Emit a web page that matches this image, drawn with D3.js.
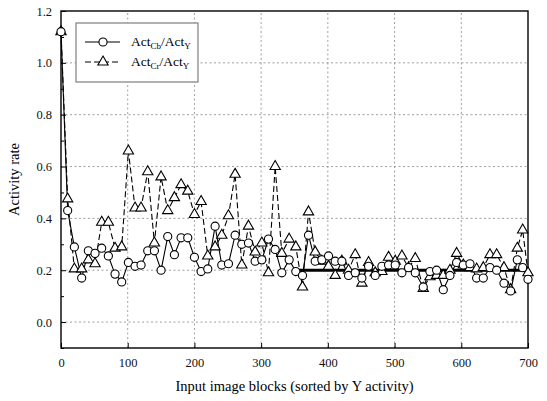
<!DOCTYPE html>
<html>
<head>
<meta charset="utf-8">
<script src="https://cdn.jsdelivr.net/npm/d3@7"></script>
<style>
  body { margin: 0; background: #fff; }
  svg { display: block; font-family: "Liberation Serif", "DejaVu Serif", serif; }
  .grid line { stroke: #888; stroke-width: 0.8; stroke-dasharray: 2,2.5; }
  .tick-lbl { font-size: 12.5px; fill: #111; }
</style>
</head>
<body>
<div id="chart"></div>
<script>
var blocks = [0, 10, 20, 31, 41, 51, 61, 71, 81, 91, 101, 111, 120, 130, 140, 150, 160, 170, 180, 190,
    200, 210, 220, 231, 241, 251, 261, 271, 281, 291, 301, 311, 321, 331, 342, 352, 362, 371, 381, 391,
    401, 411, 421, 431, 441, 451, 461, 471, 481, 491, 501, 511, 521, 531, 543, 553, 563, 573, 583, 593,
    603, 613, 623, 633, 643, 653, 664, 674, 684, 692, 700];

var actCb = [1.12, 0.43, 0.29, 0.17, 0.275, 0.265, 0.285, 0.255, 0.185, 0.155, 0.23, 0.215, 0.22, 0.275, 0.275, 0.2, 0.33, 0.26, 0.325, 0.325,
    0.25, 0.195, 0.205, 0.37, 0.22, 0.225, 0.335, 0.3, 0.305, 0.235, 0.24, 0.32, 0.28, 0.19, 0.24, 0.195, 0.18, 0.335, 0.235, 0.24,
    0.255, 0.235, 0.235, 0.18, 0.19, 0.17, 0.215, 0.18, 0.215, 0.22, 0.22, 0.19, 0.21, 0.19, 0.135, 0.195, 0.2, 0.125, 0.18, 0.23,
    0.22, 0.225, 0.17, 0.17, 0.21, 0.2, 0.15, 0.12, 0.24, 0.21, 0.165];

var actCr = [1.12, 0.475, 0.205, 0.205, 0.24, 0.225, 0.385, 0.385, 0.285, 0.29, 0.66, 0.44, 0.44, 0.58, 0.305, 0.56, 0.43, 0.48, 0.53, 0.505,
    0.415, 0.465, 0.255, 0.29, 0.335, 0.41, 0.57, 0.22, 0.37, 0.27, 0.305, 0.19, 0.6, 0.265, 0.32, 0.29, 0.135, 0.425, 0.27, 0.235,
    0.215, 0.18, 0.235, 0.2, 0.26, 0.15, 0.23, 0.19, 0.195, 0.25, 0.235, 0.255, 0.21, 0.245, 0.13, 0.175, 0.18, 0.18, 0.2, 0.265,
    0.22, 0.21, 0.205, 0.21, 0.26, 0.26, 0.21, 0.125, 0.285, 0.355, 0.19];

// bold reference level drawn over the flat part of the curves
var levelValue = 0.2;
var levelRange = [355, 700];

var xTicks = [0, 100, 200, 300, 400, 500, 600, 700];
var yTicks = [0.0, 0.2, 0.4, 0.6, 0.8, 1.0, 1.2];
var yMinor = [-0.1, 0.1, 0.3, 0.5, 0.7, 0.9, 1.1];

var W = 547, H = 401;
var margin = { top: 11, right: 19, bottom: 53, left: 61 };

var svg = d3.select("#chart").append("svg")
    .attr("width", W)
    .attr("height", H);

var x = d3.scaleLinear().domain([0, 700]).range([margin.left, W - margin.right]);
var y = d3.scaleLinear().domain([-0.1, 1.2]).range([H - margin.bottom, margin.top]);

// grid
var grid = svg.append("g").attr("class", "grid");
grid.selectAll(".gx").data(xTicks.slice(1, -1)).enter().append("line")
    .attr("x1", d => x(d)).attr("x2", d => x(d))
    .attr("y1", y.range()[0]).attr("y2", y.range()[1]);
grid.selectAll(".gy").data(yTicks.slice(0, -1)).enter().append("line")
    .attr("y1", d => y(d)).attr("y2", d => y(d))
    .attr("x1", x.range()[0]).attr("x2", x.range()[1]);

// axes with inward ticks
var xAxis = d3.axisBottom(x).tickValues(xTicks).tickSize(-5).tickPadding(10).tickFormat(d3.format("d"));
var yAxis = d3.axisLeft(y).tickValues(yTicks).tickSize(-5).tickPadding(9).tickFormat(d3.format(".1f"));

var gx = svg.append("g").attr("transform", "translate(0," + y.range()[0] + ")").call(xAxis);
var gy = svg.append("g").attr("transform", "translate(" + x.range()[0] + ",0)").call(yAxis);
svg.append("g").attr("transform", "translate(" + x.range()[0] + ",0)")
    .call(d3.axisLeft(y).tickValues(yMinor).tickSize(-3).tickFormat(""))
    .select(".domain").remove();

[gx, gy].forEach(function(g) {
    g.select(".domain").remove();
    g.selectAll(".tick line").attr("stroke", "#000");
    g.selectAll(".tick text").attr("class", "tick-lbl")
        .style("font-family", "Liberation Serif, serif").style("font-size", "12.5px");
});

// frame
svg.append("rect")
    .attr("x", x.range()[0]).attr("y", y.range()[1])
    .attr("width", x.range()[1] - x.range()[0])
    .attr("height", y.range()[0] - y.range()[1])
    .attr("fill", "none").attr("stroke", "#000").attr("stroke-width", 1.4);

// bold level line
svg.append("line")
    .attr("x1", x(levelRange[0])).attr("x2", x(levelRange[1]))
    .attr("y1", y(levelValue)).attr("y2", y(levelValue))
    .attr("stroke", "#000").attr("stroke-width", 3);

var pts = blocks.map((b, i) => ({ b: b, cb: actCb[i], cr: actCr[i] }));

var lineCr = d3.line().x(d => x(d.b)).y(d => y(d.cr));
var lineCb = d3.line().x(d => x(d.b)).y(d => y(d.cb));

svg.append("path").datum(pts).attr("d", lineCr)
    .attr("fill", "none").attr("stroke", "#000").attr("stroke-width", 1.1)
    .attr("stroke-dasharray", "6,3");
svg.append("path").datum(pts).attr("d", lineCb)
    .attr("fill", "none").attr("stroke", "#000").attr("stroke-width", 1.1);

var tri = d3.symbol().type(d3.symbolTriangle).size(46);
var circ = d3.symbol().type(d3.symbolCircle).size(52);

svg.append("g").selectAll("path").data(pts).enter().append("path")
    .attr("d", tri)
    .attr("transform", d => "translate(" + x(d.b) + "," + y(d.cr) + ")")
    .attr("fill", "#fff").attr("stroke", "#000").attr("stroke-width", 1.1);
svg.append("g").selectAll("path").data(pts).enter().append("path")
    .attr("d", circ)
    .attr("transform", d => "translate(" + x(d.b) + "," + y(d.cb) + ")")
    .attr("fill", "#fff").attr("stroke", "#000").attr("stroke-width", 1.1);

// axis titles
svg.append("text")
    .attr("x", (x.range()[0] + x.range()[1]) / 2).attr("y", 391)
    .attr("text-anchor", "middle").style("font-size", "14.5px")
    .text("Input image blocks (sorted by Y activity)");
svg.append("text")
    .attr("transform", "translate(19," + ((y.range()[0] + y.range()[1]) / 2) + ") rotate(-90)")
    .attr("text-anchor", "middle").style("font-size", "14.5px")
    .text("Activity rate");

// legend
var lg = svg.append("g");
lg.append("rect")
    .attr("x", 76).attr("y", 23).attr("width", 122).attr("height", 59)
    .attr("fill", "#fff").attr("stroke", "#888").attr("stroke-width", 1.3);

var legendItems = [
    { sub: "Cb", dash: null, sym: circ, yy: 42 },
    { sub: "Cr", dash: "6,3", sym: tri, yy: 62 }
];
legendItems.forEach(function(it) {
    lg.append("line")
        .attr("x1", 85).attr("x2", 120).attr("y1", it.yy).attr("y2", it.yy)
        .attr("stroke", "#000").attr("stroke-width", 1.1)
        .attr("stroke-dasharray", it.dash);
    lg.append("path").attr("d", it.sym)
        .attr("transform", "translate(103," + it.yy + ")")
        .attr("fill", "#fff").attr("stroke", "#000").attr("stroke-width", 1.1);
    var t = lg.append("text").attr("x", 131).attr("y", it.yy + 4).style("font-size", "13.5px");
    t.append("tspan").text("Act");
    t.append("tspan").attr("dy", 3).style("font-size", "9px").text(it.sub);
    t.append("tspan").attr("dy", -3).text("/Act");
    t.append("tspan").attr("dy", 3).style("font-size", "9px").text("Y");
});
</script>
</body>
</html>
